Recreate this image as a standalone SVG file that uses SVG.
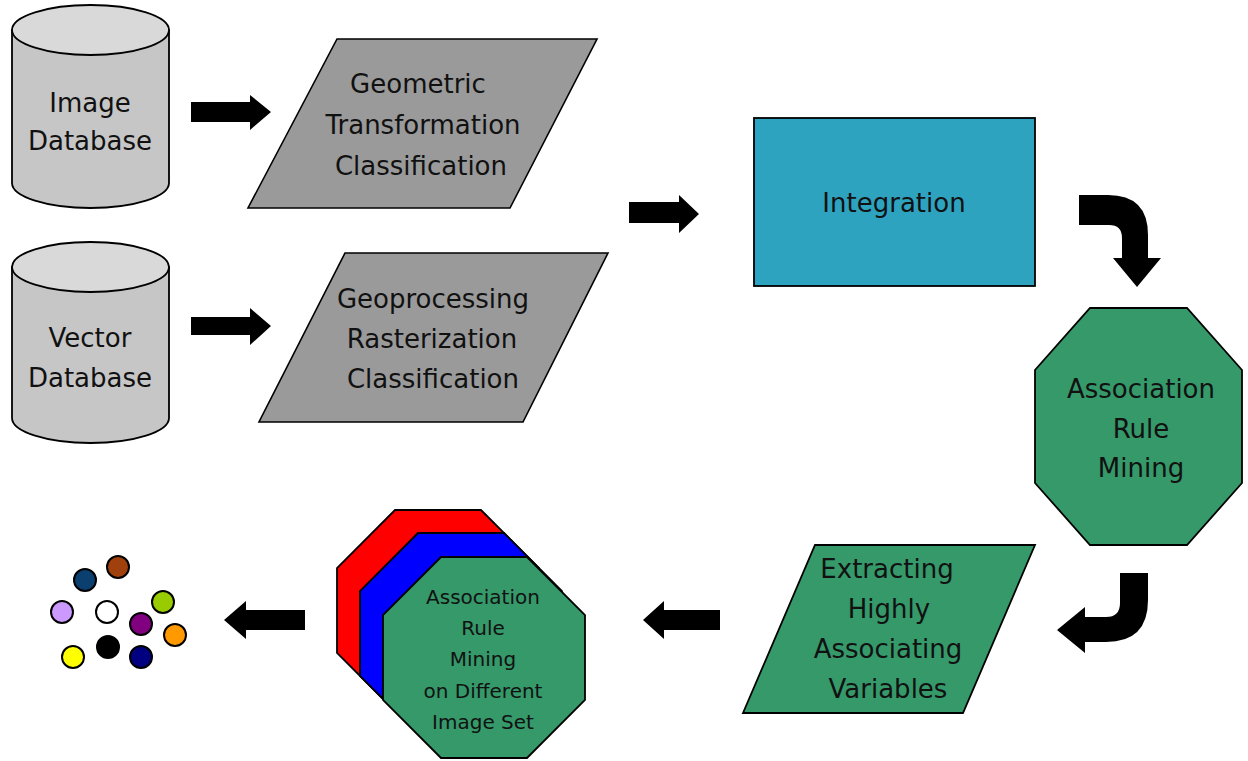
<svg xmlns="http://www.w3.org/2000/svg" width="1248" height="761" viewBox="0 0 1248 761">
<style>
  .lbl{font-family:"DejaVu Sans","Liberation Sans",sans-serif;font-size:26px;fill:#111;text-anchor:middle}
  .sm{font-size:20px}
  .cylb{fill:#c6c6c6;stroke:#000;stroke-width:1.8}
  .cylt{fill:#d9d9d9;stroke:#000;stroke-width:1.8}
  .gray{fill:#9a9a9a;stroke:#000;stroke-width:1.6}
  .green{fill:#35996a;stroke:#000;stroke-width:1.8}
  .blue{fill:#2ea3c0;stroke:#000;stroke-width:1.8}
  .arrow{fill:#000}
  .dot{stroke:#000;stroke-width:2}
</style>
<rect width="1248" height="761" fill="#fff"/>

<g id="image-database">
  <path class="cylb" d="M12,30 V183 A78.5,25 0 0 0 169,183 V30 Z"/>
  <ellipse class="cylt" cx="90.5" cy="30" rx="78.5" ry="25"/>
  <text class="lbl" x="90" y="112">Image</text>
  <text class="lbl" x="90" y="150">Database</text>
</g>

<g id="vector-database">
  <path class="cylb" d="M12,267 V418 A78.5,25 0 0 0 169,418 V267 Z"/>
  <ellipse class="cylt" cx="90.5" cy="267" rx="78.5" ry="25"/>
  <text class="lbl" x="90" y="347">Vector</text>
  <text class="lbl" x="90" y="387">Database</text>
</g>

<g id="geometric">
  <polygon class="gray" points="337,39 597,39 510,208 248,208"/>
  <text class="lbl" x="418" y="93">Geometric</text>
  <text class="lbl" x="423" y="134">Transformation</text>
  <text class="lbl" x="421" y="175">Classification</text>
</g>

<g id="geoprocessing">
  <polygon class="gray" points="345,253 608,253 523,422 259,422"/>
  <text class="lbl" x="433" y="308">Geoprocessing</text>
  <text class="lbl" x="432" y="348">Rasterization</text>
  <text class="lbl" x="433" y="388">Classification</text>
</g>

<g id="integration">
  <rect class="blue" x="754" y="118" width="281" height="168"/>
  <text class="lbl" x="894" y="212">Integration</text>
</g>

<g id="association-rule-mining">
  <polygon class="green" points="1090,308 1187,308 1242,370 1242,483 1187,545 1090,545 1035,483 1035,370"/>
  <text class="lbl" x="1141" y="398">Association</text>
  <text class="lbl" x="1141" y="438">Rule</text>
  <text class="lbl" x="1141" y="477">Mining</text>
</g>

<g id="extracting">
  <polygon class="green" points="815,545 1035,545 963,713 743,713"/>
  <text class="lbl" x="887" y="578">Extracting</text>
  <text class="lbl" x="889" y="618">Highly</text>
  <text class="lbl" x="888" y="658">Associating</text>
  <text class="lbl" x="888" y="698">Variables</text>
</g>

<g id="arm-different-image-set">
  <polygon fill="#ff0000" stroke="#000" stroke-width="1.8" points="395,510 481,510 539,568 539,653 481,711 395,711 337,653 337,568"/>
  <polygon fill="#0000ff" stroke="#000" stroke-width="1.8" points="418,533 504,533 562,591 562,676 504,734 418,734 360,676 360,591"/>
  <polygon class="green" points="441,557 527,557 585,615 585,700 527,758 441,758 383,700 383,615"/>
  <text class="lbl sm" x="483" y="604">Association</text>
  <text class="lbl sm" x="483" y="635">Rule</text>
  <text class="lbl sm" x="483" y="666">Mining</text>
  <text class="lbl sm" x="483" y="698">on Different</text>
  <text class="lbl sm" x="483" y="729">Image Set</text>
</g>

<g id="results">
  <circle class="dot" cx="85" cy="580" r="11" fill="#0b3f6f"/>
  <circle class="dot" cx="118" cy="567" r="11" fill="#a0400c"/>
  <circle class="dot" cx="62" cy="612" r="11" fill="#cc99ff"/>
  <circle class="dot" cx="107" cy="612" r="11" fill="#ffffff"/>
  <circle class="dot" cx="163" cy="602" r="11" fill="#99cc00"/>
  <circle class="dot" cx="141" cy="624" r="11" fill="#800080"/>
  <circle class="dot" cx="175" cy="635" r="11" fill="#ff9900"/>
  <circle class="dot" cx="108" cy="647" r="11" fill="#000000"/>
  <circle class="dot" cx="73" cy="657" r="11" fill="#ffff00"/>
  <circle class="dot" cx="141" cy="657" r="11" fill="#000080"/>
</g>

<g id="connectors">
  <polygon class="arrow" points="191,102 250,102 250,95 271,112 250,130 250,122 191,122"/>
  <polygon class="arrow" points="191,317 250,317 250,308 271,326 250,345 250,335 191,335"/>
  <polygon class="arrow" points="629,202 679,202 679,195 699,214 679,233 679,223 629,223"/>
  <path class="arrow" d="M1079,195 H1108 Q1148,195 1148,235 V258 H1161 L1137,287 L1113,258 H1122 V238 Q1122,225 1109,225 H1079 Z"/>
  <path class="arrow" d="M1120,573 H1148 V600 Q1148,642 1106,642 H1085 V653 L1057,630 L1085,607 V617 H1106 Q1120,617 1120,603 Z"/>
  <polygon class="arrow" points="720,610 664,610 664,601 643,620 664,639 664,630 720,630"/>
  <polygon class="arrow" points="305,610 246,610 246,601 224,620 246,639 246,630 305,630"/>
</g>
</svg>
